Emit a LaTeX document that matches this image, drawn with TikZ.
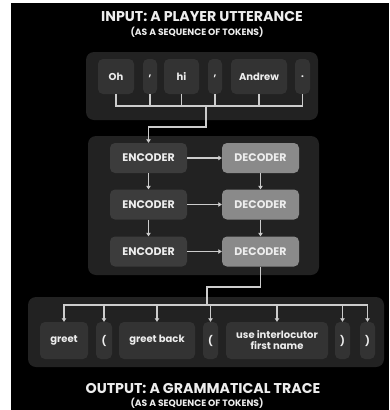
\documentclass[tikz,border=0pt]{standalone}
\usepackage{fontspec}
\setmainfont{Poppins}
\usetikzlibrary{arrows.meta,positioning}

\definecolor{panel}{HTML}{222222}
\definecolor{token}{HTML}{333333}
\definecolor{encfill}{HTML}{3C3C3C}
\definecolor{decfill}{HTML}{8A8A8A}
\definecolor{ink}{HTML}{EDEDED}
\definecolor{wire}{HTML}{CCCCCC}

\tikzset{
  panelbox/.style={fill=panel, rounded corners=8pt},
  tokbox/.style={fill=token, rounded corners=5pt, text=ink, font=\bfseries\fontsize{10}{11}\selectfont,
    inner sep=0pt, align=center},
  encbox/.style={fill=encfill, rounded corners=5pt, text=ink, font=\bfseries\fontsize{11}{12}\selectfont,
    minimum width=77pt, minimum height=30pt, inner sep=0pt},
  decbox/.style={encbox, fill=decfill},
  wireline/.style={draw=wire, line width=1.1pt},
  arr/.style={wireline, -{Triangle[width=4.5pt,length=3.5pt]}},
  headline/.style={text=ink, font=\bfseries\fontsize{14.2}{15}\selectfont},
  subline/.style={text=ink, font=\bfseries\fontsize{9.2}{10}\selectfont},
}

\begin{document}
\begin{tikzpicture}[x=1pt,y=-1pt]
  \useasboundingbox (0,0) rectangle (389,410);
  \fill[white] (0,0) rectangle (389,410);
  \fill[black] (11,3) rectangle (389,410);

  % headings
  \node[headline] (intitle) at (202,17) {INPUT: A PLAYER UTTERANCE};
  \node[subline] (insub) at (197,32) {(AS A SEQUENCE OF TOKENS)};
  \node[headline] (outtitle) at (203,388) {OUTPUT: A GRAMMATICAL TRACE};
  \node[subline] (outsub) at (197,403) {(AS A SEQUENCE OF TOKENS)};

  % panels
  \fill[panelbox] (86,52) rectangle (318,120);
  \fill[panelbox] (88,136) rectangle (319,275);
  \fill[panelbox] (28,297) rectangle (384,367);

  % input tokens
  \node[tokbox, minimum width=36pt, minimum height=35pt] (t1) at (116,76.5) {Oh};
  \node[tokbox, minimum width=14pt, minimum height=35pt] (t2) at (150,76.5) {,};
  \node[tokbox, minimum width=35pt, minimum height=35pt] (t3) at (181.5,76.5) {hi};
  \node[tokbox, minimum width=14pt, minimum height=35pt] (t4) at (215,76.5) {,};
  \node[tokbox, minimum width=56pt, minimum height=35pt] (t5) at (259,76.5) {Andrew};
  \node[tokbox, minimum width=15pt, minimum height=35pt] (t6) at (302.5,76.5) {.};

  % encoder / decoder stack
  \node[encbox] (e1) at (148.5,158) {ENCODER};
  \node[encbox] (e2) at (148.5,204.5) {ENCODER};
  \node[encbox] (e3) at (148.5,251.5) {ENCODER};
  \node[decbox] (d1) at (260.5,158) {DECODER};
  \node[decbox] (d2) at (260.5,204.5) {DECODER};
  \node[decbox] (d3) at (260.5,251.5) {DECODER};

  % output tokens
  \node[tokbox, minimum width=48pt, minimum height=37pt] (o1) at (64,340.5) {greet};
  \node[tokbox, minimum width=16pt, minimum height=37pt] (o2) at (104,340.5) {(};
  \node[tokbox, minimum width=76pt, minimum height=37pt] (o3) at (157,340.5) {greet back};
  \node[tokbox, minimum width=15pt, minimum height=37pt] (o4) at (210.5,340.5) {(};
  \node[tokbox, minimum width=102pt, minimum height=37pt] (o5) at (277,340.5) {use interlocutor\\first name};
  \node[tokbox, minimum width=15pt, minimum height=37pt] (o6) at (342.5,340.5) {)};
  \node[tokbox, minimum width=15pt, minimum height=37pt] (o7) at (367.5,340.5) {)};

  % input gathering bracket
  \coordinate (injoin) at (206,106);
  \coordinate (inbend) at (206,127);
  \foreach \t in {t1,t2,t3,t4,t5,t6}
    \draw[wireline] (\t.south) |- (injoin);
  \draw[arr] (injoin) -- (inbend) -| (e1.north);

  % stack connections
  \draw[arr] (e1) -- (d1);
  \draw[arr] (e2) -- (d2);
  \draw[arr] (e3) -- (d3);
  \draw[arr] (e1) -- (e2);
  \draw[arr] (e2) -- (e3);
  \draw[arr] (d1) -- (d2);
  \draw[arr] (d2) -- (d3);

  % output distribution bracket
  \coordinate (outbend) at (207,287);
  \coordinate (outjoin) at (207,305);
  \draw[wireline] (d3.south) |- (outbend) -- (outjoin);
  \foreach \t in {o1,o2,o3,o4,o5,o6,o7}
    \draw[arr] (outjoin) -| (\t.north);
\end{tikzpicture}
\end{document}
